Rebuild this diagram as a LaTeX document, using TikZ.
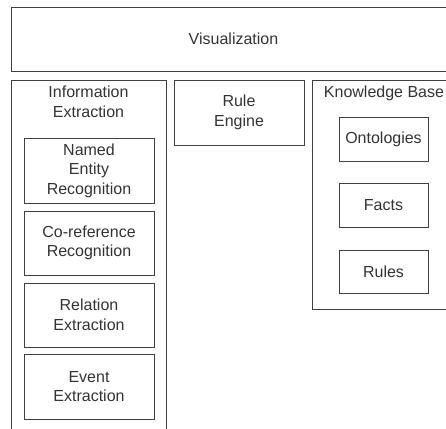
\documentclass[tikz,border=0pt]{standalone}
\usepackage{fontspec}
\setmainfont{Liberation Sans}
\usetikzlibrary{positioning}
\begin{document}
\begin{tikzpicture}[x=1pt,y=1pt,
	box/.style={draw=black!75,line width=0.9pt,rectangle,inner sep=0pt,outer sep=0pt,align=center,text=black!80,font=\fontsize{16}{19.6}\selectfont},
	title/.style={inner sep=0pt,anchor=north,align=center,text=black!80,font=\fontsize{16}{19.6}\selectfont}]
			\useasboundingbox (0,0) rectangle (446,-428);
			\clip (0,0) rectangle (446,-428);
			
			\node[box,minimum width=445,minimum height=64] (vis) at (233.5,-39) {Visualization};
			
			% information extraction column
			\node[box,minimum width=155,minimum height=360] (ie) at (88.5,-260) {};
			\node[title] (ietitle) at (88.5,-86) {Information\\Extraction};
			\node[box,minimum width=130,minimum height=65] (ner) at (89,-170.5) {Named\\Entity\\Recognition};
			\node[box,minimum width=130,minimum height=64] (coref) at (89,-243) {Co-reference\\Recognition};
			\node[box,minimum width=130,minimum height=64] (rel) at (89,-315) {Relation\\Extraction};
			\node[box,minimum width=130,minimum height=65] (event) at (89,-386.5) {Event\\Extraction};
			
			\node[box,minimum width=130,minimum height=65] (re) at (239,-112.5) {Rule\\Engine};
			
			% knowledge base column
			\node[box,minimum width=144,minimum height=229] (kb) at (384,-194.5) {};
			\node[title] (kbtitle) at (384,-86) {Knowledge Base};
			\node[box,minimum width=89,minimum height=44] (onto) at (383.5,-139) {Ontologies};
			\node[box,minimum width=89,minimum height=44] (facts) at (383.5,-205) {Facts};
			\node[box,minimum width=89,minimum height=43] (rules) at (383.5,-271.5) {Rules};
\end{tikzpicture}
\end{document}
